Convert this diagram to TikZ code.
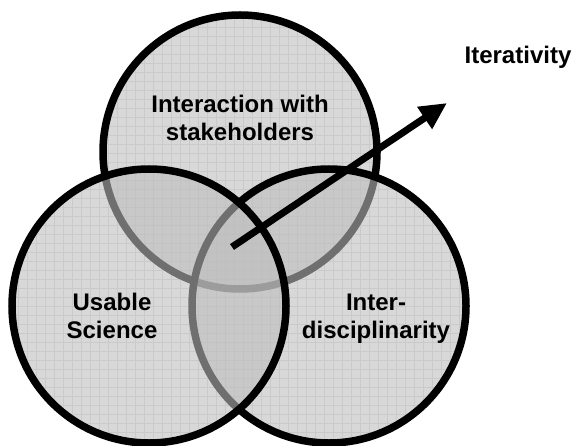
\documentclass[tikz,border=0pt]{standalone}
\usepackage{fontspec}
\setmainfont{Liberation Sans}
\usetikzlibrary{arrows.meta}
\usepackage{xcolor}
\definecolor{vennfill}{gray}{0.74}
\definecolor{venngrid}{gray}{0.87}
\tikzset{
  venn/.style={line width=7.5pt, draw=black, fill=vennfill, fill opacity=0.59},
  vennlabel/.style={align=center, font=\bfseries\fontsize{24}{28}\selectfont},
  iterarrow/.style={line width=7pt, -{Triangle[length=27pt,width=25pt]}}
}

\begin{document}
\begin{tikzpicture}[x=1pt,y=-1pt]
\clip (0,0) rectangle (572,446);
% Centres of the three circles
\coordinate (stake) at (240,152);
\coordinate (usable) at (149,306);
\coordinate (inter) at (329,306);

% Faint grid inside each circle
\foreach \c in {stake,inter,usable} {
  \begin{scope}
  \clip (\c) circle (137pt);
  \foreach \g in {0,9,...,567} {
    \draw[venngrid, line width=0.6pt] (\g,0) -- (\g,446);
    \draw[venngrid, line width=0.6pt] (0,\g) -- (572,\g);
  }
  \end{scope}
}

% Draw the circles, the later ones shade the earlier outlines
\foreach \c in {stake,inter,usable} {
  \draw[venn] (\c) circle (137pt);
}

% Labels
\node[vennlabel] (stakelabel) at (240,118) {Interaction with\\stakeholders};
\node[vennlabel] (usablelabel) at (112,316) {Usable\\Science};
\node[vennlabel] (interlabel) at (376,319) {Inter-\\disciplinarity};
\node[vennlabel] (iterlabel) at (518,57) {Iterativity};

% Arrow out of the centre
\coordinate (iterstart) at (232,247);
\coordinate (itertip) at (447,103);
\draw[iterarrow] (iterstart) -- (itertip);
\end{tikzpicture}
\end{document}
